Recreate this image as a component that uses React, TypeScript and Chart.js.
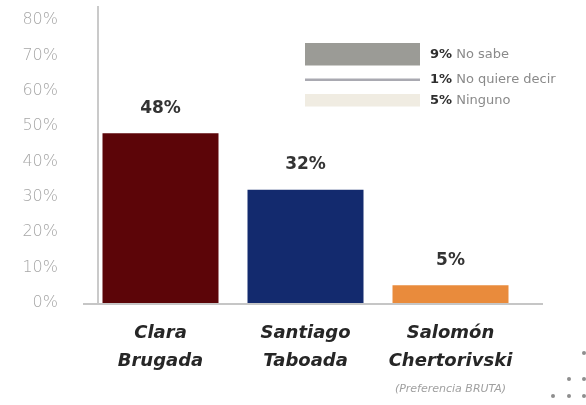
import React, { useEffect, useRef } from "react";
import { Chart, registerables } from "chart.js";

Chart.register(...registerables);

const candidates: string[][] = [
  ["Clara", "Brugada"],
  ["Santiago", "Taboada"],
  ["Salomón", "Chertorivski"],
];
const values: number[] = [48, 32, 5];
const barColors: string[] = ["#5c0508", "#132a6e", "#e98b3c"];
const yTicks: number[] = [0, 10, 20, 30, 40, 50, 60, 70, 80];
const otherLabels: string[] = ["No sabe", "No quiere decir", "Ninguno"];
const otherValues: number[] = [9, 1, 5];
const otherColors: string[] = ["#9b9b96", "#a9a9b1", "#f0ece2"];
const footnote = "(Preferencia BRUTA)";

const decorPlugin = {
  id: "decor",
  afterDatasetsDraw(chart: any) {
    const { ctx, chartArea, scales } = chart;
    const x = scales.x;
    const y = scales.y;
    ctx.save();
    // y axis line
    ctx.strokeStyle = "#b9b9b9";
    ctx.lineWidth = 1.5;
    ctx.beginPath();
    ctx.moveTo(chartArea.left + 10, y.getPixelForValue(y.max));
    ctx.lineTo(chartArea.left + 10, chartArea.bottom);
    ctx.stroke();
    // baseline
    ctx.strokeStyle = "#c6c6c6";
    ctx.lineWidth = 2;
    ctx.beginPath();
    ctx.moveTo(chartArea.left - 5, chartArea.bottom + 1);
    ctx.lineTo(chartArea.right + 20, chartArea.bottom + 1);
    ctx.stroke();

    // value labels
    const meta = chart.getDatasetMeta(0);
    ctx.fillStyle = "#333333";
    ctx.font = "bold 17px 'DejaVu Sans'";
    ctx.textAlign = "center";
    ctx.textBaseline = "middle";
    meta.data.forEach((bar: any, i: number) => {
      ctx.fillText(values[i] + "%", bar.x, bar.y - 25);
    });

    // footnote under last category
    ctx.fillStyle = "#a0a0a0";
    ctx.font = "italic 11px 'DejaVu Sans'";
    ctx.fillText(footnote, x.getPixelForValue(candidates.length - 1), 389);

    // "others" legend
    let top = 43;
    const scaleH = 2.5;
    otherValues.forEach((v, i) => {
      const h = v * scaleH;
      ctx.fillStyle = otherColors[i];
      ctx.fillRect(305, top, 115, h);
      const cy = top + h / 2;
      ctx.textAlign = "left";
      ctx.textBaseline = "middle";
      ctx.font = "bold 13px 'DejaVu Sans'";
      ctx.fillStyle = "#2e2e2e";
      const pct = v + "%";
      ctx.fillText(pct, 430, cy);
      const w = ctx.measureText(pct).width;
      ctx.font = "13px 'DejaVu Sans'";
      ctx.fillStyle = "#8a8a8a";
      ctx.fillText(" " + otherLabels[i], 430 + w, cy);
      top += h + 13;
    });

    // decorative dots
    ctx.fillStyle = "#8e8e8e";
    const dots = [
      [584, 353],
      [569, 379],
      [584, 379],
      [553, 396],
      [569, 396],
      [584, 396],
    ];
    dots.forEach(([dx, dy]) => {
      ctx.beginPath();
      ctx.arc(dx, dy, 2, 0, Math.PI * 2);
      ctx.fill();
    });
    ctx.restore();
  },
};

export default function App() {
  const ref = useRef<HTMLCanvasElement | null>(null);
  useEffect(() => {
    document.body.style.margin = "0";
    const canvas = ref.current;
    if (!canvas) return;
    const chart = new Chart(canvas, {
      type: "bar",
      data: {
        labels: candidates,
        datasets: [
          {
            data: values,
            backgroundColor: barColors,
            barPercentage: 0.8,
            categoryPercentage: 1,
            borderWidth: 0,
          },
        ],
      },
      options: {
        animation: false,
        responsive: false,
        devicePixelRatio: 1,
        layout: { padding: { top: 0, left: 0, right: 63, bottom: 0 } },
        plugins: {
          legend: { display: false },
          tooltip: { enabled: false },
        },
        scales: {
          x: {
            grid: { display: false, drawTicks: false },
            border: { display: false },
            ticks: {
              color: "#262626",
              padding: 16,
              maxRotation: 0,
              autoSkip: false,
              font: {
                family: "'DejaVu Sans'",
                size: 18,
                style: "italic",
                weight: "bold",
                lineHeight: 1.55,
              },
            },
            afterFit: (s: any) => {
              s.height = 102;
            },
          },
          y: {
            min: 0,
            max: 84,
            grid: { display: false, drawTicks: false },
            border: { display: false },
            afterBuildTicks: (s: any) => {
              s.ticks = yTicks.map((v) => ({ value: v }));
            },
            ticks: {
              color: "#a6a6a6",
              padding: 30,
              font: { family: "'DejaVu Sans'", size: 16, weight: 200 },
              callback: (v: any) => v + "%",
            },
            afterFit: (s: any) => {
              s.width = 88;
              s.paddingTop = 6;
              s.paddingBottom = 6;
            },
          },
        },
      },
      plugins: [decorPlugin],
    });
    return () => chart.destroy();
  }, []);
  return <canvas ref={ref} width={586} height={405} style={{ display: "block" }} />;
}
